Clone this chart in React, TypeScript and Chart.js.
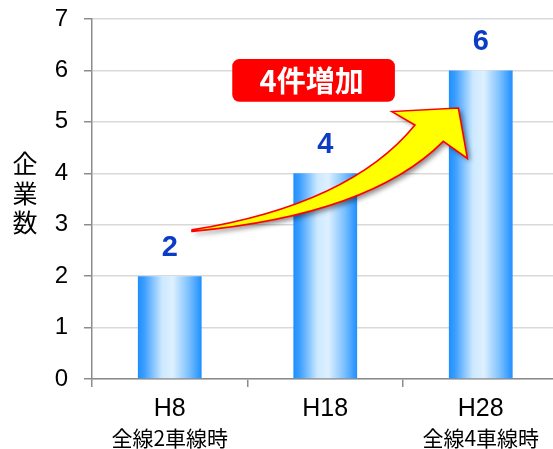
import React, { useEffect, useRef } from "react";
import { Chart, registerables } from "chart.js";

Chart.register(...registerables);

const categories = ["H8", "H18", "H28"];
const subLabels = ["全線2車線時", "", "全線4車線時"];
const companyCounts = [2, 4, 6];
const yTicks = [0, 1, 2, 3, 4, 5, 6, 7];
const yTitleChars = ["企", "業", "数"];
const calloutText = "4件増加";

const LATIN = "'Liberation Sans', Arial, sans-serif";
const CJK = "'Noto Sans CJK JP', 'Noto Sans', sans-serif";
const BAR_PCT = 0.41;

// annotation geometry in (category index, value) space
const arrowUpper = { p0: [0.143, 2.9], c: [1.159, 3.39], p2: [1.577, 4.94] };
const arrowHead = { left: [1.429, 5.2], tip: [1.856, 5.27], right: [1.914, 4.29], notch: [1.759, 4.62] };
const arrowLower = { c: [1.288, 3.19], end: [0.143, 2.87] };
const calloutBox = { x0: 0.402, x1: 1.448, y0: 6.22, y1: 5.39 };

export default function App() {
  const ref = useRef<HTMLCanvasElement | null>(null);

  useEffect(() => {
    const canvas = ref.current;
    if (!canvas) return;

    const barFill = (c: any) => {
      const chart = c.chart;
      const xs = chart.scales?.x;
      if (!xs || !chart.chartArea || c.dataIndex === undefined) return "#1E90FF";
      const cx = xs.getPixelForValue(c.dataIndex);
      const w = (xs.width / categories.length) * BAR_PCT;
      const g = chart.ctx.createLinearGradient(cx - w / 2, 0, cx + w / 2, 0);
      g.addColorStop(0, "#1E8FFF");
      g.addColorStop(0.1, "#3C9EFF");
      g.addColorStop(0.38, "#CDE9FF");
      g.addColorStop(0.55, "#DDF0FF");
      g.addColorStop(0.8, "#7CC0FF");
      g.addColorStop(1, "#1E8FFF");
      return g;
    };

    const overlay = {
      id: "overlay",
      afterDatasetsDraw(chart: any) {
        const ctx = chart.ctx;
        const meta = chart.getDatasetMeta(0);
        ctx.save();
        ctx.fillStyle = "#0B3CC6";
        ctx.font = `bold 29px ${LATIN}`;
        ctx.textAlign = "center";
        ctx.textBaseline = "middle";
        meta.data.forEach((el: any, i: number) => {
          ctx.fillText(String(companyCounts[i]), el.x, el.y - 28);
        });
        ctx.restore();
      },
      afterDraw(chart: any) {
        const ctx = chart.ctx;
        const xs = chart.scales.x;
        const ys = chart.scales.y;
        const P = (p: number[]) => [xs.getPixelForValue(p[0]), ys.getPixelForValue(p[1])];

        // y-axis title (vertical stacked)
        ctx.save();
        ctx.fillStyle = "#000";
        ctx.font = `25px ${CJK}`;
        ctx.textAlign = "center";
        ctx.textBaseline = "middle";
        yTitleChars.forEach((ch, i) => ctx.fillText(ch, 25, 163.5 + i * 29.5));
        // sub labels
        ctx.font = `21px ${CJK}`;
        subLabels.forEach((s, i) => {
          if (s) ctx.fillText(s, xs.getPixelForValue(i), 438);
        });
        ctx.restore();

        // arrow
        const a0 = P(arrowUpper.p0), ac = P(arrowUpper.c), a2 = P(arrowUpper.p2);
        const hl = P(arrowHead.left), ht = P(arrowHead.tip), hr = P(arrowHead.right), hn = P(arrowHead.notch);
        const lc = P(arrowLower.c), le = P(arrowLower.end);
        ctx.save();
        ctx.beginPath();
        ctx.moveTo(a0[0], a0[1]);
        ctx.quadraticCurveTo(ac[0], ac[1], a2[0], a2[1]);
        ctx.lineTo(hl[0], hl[1]);
        ctx.lineTo(ht[0], ht[1]);
        ctx.lineTo(hr[0], hr[1]);
        ctx.lineTo(hn[0], hn[1]);
        ctx.quadraticCurveTo(lc[0], lc[1], le[0], le[1]);
        ctx.closePath();
        ctx.shadowColor = "rgba(0,0,0,0.45)";
        ctx.shadowBlur = 5;
        ctx.shadowOffsetX = 3;
        ctx.shadowOffsetY = 3;
        ctx.fillStyle = "#FFFF00";
        ctx.fill();
        ctx.shadowColor = "transparent";
        ctx.lineWidth = 1.6;
        ctx.strokeStyle = "#FF0000";
        ctx.lineJoin = "miter";
        ctx.stroke();
        ctx.restore();

        // callout box
        const bx0 = xs.getPixelForValue(calloutBox.x0);
        const bx1 = xs.getPixelForValue(calloutBox.x1);
        const by0 = ys.getPixelForValue(calloutBox.y0);
        const by1 = ys.getPixelForValue(calloutBox.y1);
        ctx.save();
        ctx.beginPath();
        ctx.roundRect(bx0, by0, bx1 - bx0, by1 - by0, 7);
        ctx.fillStyle = "#FF0000";
        ctx.fill();
        ctx.fillStyle = "#FFFFFF";
        ctx.font = `bold 29px ${CJK}`;
        ctx.textAlign = "center";
        ctx.textBaseline = "middle";
        ctx.fillText(calloutText, (bx0 + bx1) / 2 - 2, (by0 + by1) / 2 + 1);
        ctx.restore();
      },
    };

    const chart = new Chart(canvas, {
      type: "bar",
      data: {
        labels: categories,
        datasets: [
          {
            data: companyCounts,
            backgroundColor: barFill as any,
            borderWidth: 0,
            barPercentage: BAR_PCT,
            categoryPercentage: 1,
          },
        ],
      },
      options: {
        responsive: false,
        animation: false,
        layout: { padding: { top: 19, right: 1.5, bottom: 0, left: 0 } },
        plugins: { legend: { display: false }, tooltip: { enabled: false } },
        scales: {
          x: {
            grid: {
              offset: true,
              drawOnChartArea: false,
              drawTicks: true,
              tickLength: 8,
              color: "#8C8C8C",
              lineWidth: 1.5,
            },
            border: { color: "#8C8C8C", width: 1.5 },
            ticks: {
              color: "#000",
              font: { family: LATIN, size: 25 },
              padding: 7,
              maxRotation: 0,
            },
            afterFit(scale: any) {
              scale.height = 70;
              scale.paddingLeft = 0;
              scale.paddingRight = 0;
            },
          },
          y: {
            min: 0,
            max: 7,
            afterBuildTicks(scale: any) {
              scale.ticks = yTicks.map((v) => ({ value: v }));
            },
            grid: {
              color: "#D9D9D9",
              lineWidth: 1.5,
              drawTicks: true,
              tickLength: 8,
              tickColor: "#8C8C8C",
            },
            border: { color: "#8C8C8C", width: 1.5 },
            ticks: {
              color: "#000",
              font: { family: LATIN, size: 24 },
              padding: 16,
            },
            afterFit(scale: any) {
              scale.width = 92;
              scale.paddingTop = 0;
              scale.paddingBottom = 0;
            },
          },
        },
      },
      plugins: [overlay],
    });

    return () => chart.destroy();
  }, []);

  return (
    <div
      style={{
        position: "fixed",
        left: 0,
        top: 0,
        width: 553,
        height: 449,
        overflow: "hidden",
        background: "#fff",
      }}
    >
      <canvas ref={ref} width={560} height={449} style={{ width: 560, height: 449, display: "block" }} />
    </div>
  );
}
